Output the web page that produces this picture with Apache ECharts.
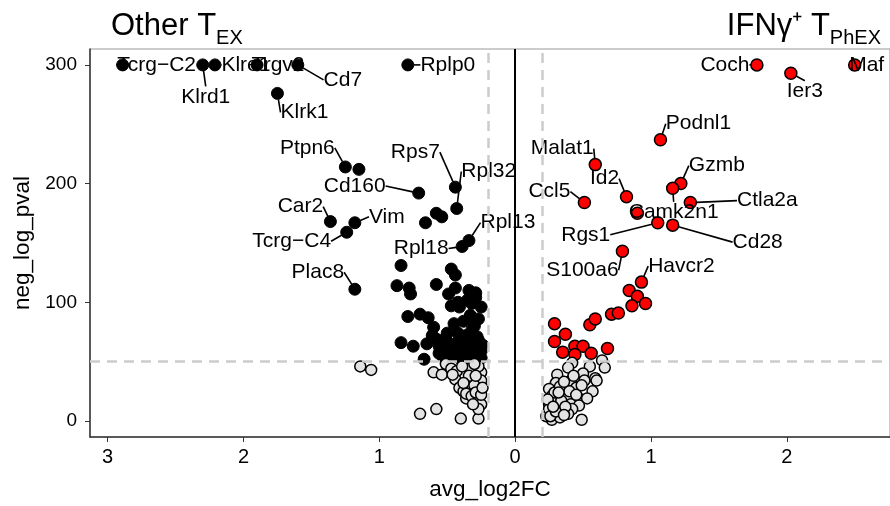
<!DOCTYPE html>
<html>
<head>
<meta charset="utf-8">
<script src="https://cdn.jsdelivr.net/npm/echarts@6/dist/echarts.min.js"></script>
<style>
    html, body { margin: 0; padding: 0; background: #fff; }
    #chart { width: 890px; height: 506px; }
</style>
</head>
<body>
<div id="chart"></div>
<script>
// genes higher in Other T_EX (negative log2FC), labelled
var downLabelled = [
    [-2.89, 300, 'Tcrg\u2212C2'], [-2.30, 300, 'Klrd1'], [-2.21, 300, 'Klre1'],
    [-1.90, 300, 'Trgv2'], [-1.60, 300, 'Cd7'], [-0.79, 300, 'Rplp0'],
    [-1.75, 276, 'Klrk1'], [-1.25, 214, 'Ptpn6'], [-0.71, 192, 'Cd160'],
    [-0.44, 197, 'Rps7'], [-0.43, 179, 'Rpl32'], [-1.36, 168, 'Car2'],
    [-1.18, 167, 'Vim'], [-1.24, 159, 'Tcrg\u2212C4'], [-0.34, 152, 'Rpl13'],
    [-0.39, 147, 'Rpl18'], [-1.18, 111, 'Plac8']
];
// other significant down genes
var downOther = [
    [-1.15, 212], [-0.66, 167], [-0.58, 175], [-0.54, 172],
    [-0.84, 131], [-0.87, 114], [-0.78, 112], [-0.77, 107], [-0.58, 115], [-0.47, 128],
    [-0.44, 123], [-0.44, 112], [-0.34, 110], [-0.29, 108], [-0.49, 107],
    [-0.79, 88], [-0.70, 90], [-0.64, 87], [-0.60, 79], [-0.50, 74], [-0.32, 76],
    [-0.61, 72], [-0.84, 66], [-0.75, 63], [-0.65, 65], [-0.56, 63], [-0.49, 66],
    [-0.41, 69], [-0.34, 68], [-0.27, 68], [-0.51, 59], [-0.56, 57], [-0.44, 57],
    [-0.36, 59], [-0.25, 59], [-0.67, 52], [-0.51, 52], [-0.41, 53], [-0.32, 52],
    [-0.25, 53], [-0.47, 97], [-0.41, 96], [-0.32, 99], [-0.25, 96], [-0.33, 89],
    [-0.45, 82], [-0.38, 84], [-0.30, 80], [-0.27, 86], [-0.42, 74], [-0.36, 72],
    [-0.29, 62], [-0.39, 62], [-0.47, 62], [-0.53, 68], [-0.58, 69], [-0.30, 56],
    [-0.37, 55], [-0.46, 55], [-0.53, 54], [-0.28, 71], [-0.24, 64], [-0.35, 102],
    [-0.29, 104], [-0.42, 100]
];
// genes higher in IFNg+ T_PhEX, labelled
var upLabelled = [
    [1.78, 300, 'Coch'], [2.03, 293, 'Ier3'], [2.50, 300, 'Maf'],
    [1.07, 237, 'Podnl1'], [0.59, 216, 'Malat1'], [0.82, 189, 'Id2'],
    [0.51, 184, 'Ccl5'], [1.22, 200, 'Gzmb'], [1.16, 196, 'Camk2n1'],
    [1.29, 184, 'Ctla2a'], [1.05, 167, 'Rgs1'], [1.16, 165, 'Cd28'],
    [0.79, 143, 'S100a6'], [0.93, 117, 'Havcr2']
];
var upOther = [
    [0.90, 175], [0.84, 110], [0.90, 105], [0.86, 97], [0.96, 99], [0.71, 90],
    [0.76, 91], [0.55, 81], [0.59, 86], [0.29, 82], [0.37, 73], [0.29, 67],
    [0.44, 63], [0.50, 63], [0.35, 58], [0.44, 56], [0.56, 57], [0.68, 61]
];
// not significant
var nsPoints = [
    [-1.14, 46], [-1.06, 43], [-0.70, 6], [-0.58, 10], [-0.40, 2], [-0.27, 2],
    [-0.60, 41], [-0.54, 39], [-0.51, 48], [-0.47, 44], [-0.43, 42], [-0.44, 35],
    [-0.41, 28], [-0.38, 25], [-0.36, 19], [-0.36, 23], [-0.32, 21], [-0.27, 17],
    [-0.25, 14], [-0.25, 41], [-0.27, 46], [-0.32, 34], [-0.28, 28], [-0.25, 34],
    [-0.34, 44], [-0.39, 46], [-0.30, 48], [-0.30, 30], [-0.34, 38], [-0.29, 24],
    [-0.25, 22], [-0.27, 10], [-0.31, 14], [-0.24, 28], [-0.38, 32], [-0.46, 39],
    [-0.29, 38],
    [0.42, 49], [0.39, 45], [0.55, 46], [0.64, 51], [0.66, 45], [0.31, 39],
    [0.50, 40], [0.59, 36], [0.30, 32], [0.41, 34], [0.51, 34], [0.60, 34],
    [0.25, 27], [0.35, 27], [0.45, 28], [0.57, 25], [0.27, 21], [0.38, 21],
    [0.47, 19], [0.53, 19], [0.25, 14], [0.33, 13], [0.41, 14], [0.47, 13],
    [0.27, 7], [0.35, 8], [0.42, 10], [0.27, 1], [0.33, 3], [0.49, 1],
    [0.39, 6], [0.23, 4], [0.25, 10], [0.28, 16], [0.31, 20], [0.26, 4],
    [0.30, 8], [0.34, 17], [0.37, 12], [0.29, 24], [0.33, 29], [0.40, 25],
    [0.24, 18], [0.36, 5], [0.45, 22], [0.49, 30], [0.43, 38], [0.36, 33],
    [0.28, 12], [0.32, 24]
];
var xTicks = [-3, -2, -1, 0, 1, 2];
var yTicks = [0, 100, 200, 300];
var fcCut = 0.2, pCut = 50;

// where each label sits relative to its point (px)
var nudge = {
    'Tcrg\u2212C2': [34, 0], 'Klrd1': [3, 32], 'Klre1': [31, 0], 'Trgv2': [21, 0],
    'Cd7': [45, 15], 'Rplp0': [40, 0], 'Klrk1': [27, 19], 'Ptpn6': [-38, -19],
    'Cd160': [-64, -7], 'Rps7': [-40, -35], 'Rpl32': [32, -37], 'Car2': [-30, -15],
    'Vim': [32, -6], 'Tcrg\u2212C4': [-55, 9], 'Rpl13': [39, -18], 'Rpl18': [-41, 2],
    'Plac8': [-37, -17],
    'Coch': [-32, 0], 'Ier3': [14, 18], 'Maf': [12, 0], 'Podnl1': [38, -16],
    'Malat1': [-33, -16], 'Id2': [-22, -18], 'Ccl5': [-35, -11], 'Gzmb': [36, -18],
    'Camk2n1': [1, 24], 'Ctla2a': [77, -2], 'Rgs1': [-72, 12], 'Cd28': [85, 17],
    'S100a6': [-40, 19], 'Havcr2': [40, -16]
};

var FONT = 'Liberation Sans, Arial, Helvetica, sans-serif';

function labelled(data) {
    return {
        show: true,
        position: 'inside',
        formatter: function (p) { return p.data[2]; },
        color: '#000',
        opacity: 1,
        fontSize: 21,
        fontFamily: FONT
    };
}
function layoutFor(data) {
    return function (p) {
        var n = nudge[data[p.dataIndex][2]] || [0, 0];
        return { dx: n[0], dy: n[1] };
    };
}
var lineStyle = { lineStyle: { color: '#000', width: 1.6, opacity: 1 } };

// title with a lowered subscript: main part padded up from the shared bottom
var titleRich = {
    a: { fontSize: 31, fontWeight: 'normal', fontFamily: FONT, color: '#000', verticalAlign: 'bottom', lineHeight: 32, padding: [0, 0, 6, 0] },
    b: { fontSize: 20, fontWeight: 'normal', fontFamily: FONT, color: '#000', verticalAlign: 'bottom', lineHeight: 22 }
};

var myChart = echarts.init(document.getElementById('chart'));
var option = {
    animation: false,
    title: [
        {
            left: 106, top: 11,
            text: '{a|Other T}{b|EX}',
            textStyle: { rich: titleRich }
        },
        {
            right: 4, top: 11,
            text: '{a|IFN\u03b3\u207a T}{b|PhEX}',
            textStyle: { rich: titleRich }
        }
    ],
    grid: {
        left: 90, right: 0, top: 49, bottom: 69,
        show: true, borderColor: '#999', borderWidth: 1
    },
    xAxis: {
        type: 'value',
        min: -3.13, max: 2.76,
        name: 'avg_log2FC',
        nameLocation: 'middle',
        nameGap: 41,
        nameTextStyle: { fontSize: 22.5, fontFamily: FONT, color: '#000' },
        axisLine: { onZero: false, lineStyle: { color: '#333', width: 1.5 } },
        axisTick: { show: true, length: 5, customValues: xTicks, lineStyle: { color: '#333' } },
        axisLabel: {
            customValues: xTicks, fontSize: 20, fontFamily: FONT, color: '#000', margin: 10,
            formatter: function (v) { return String(Math.abs(v)); }
        },
        splitLine: { show: false }
    },
    yAxis: {
        type: 'value',
        min: -13.5, max: 313.4,
        name: 'neg_log_pval',
        nameLocation: 'middle',
        nameGap: 55,
        nameRotate: 90,
        nameTextStyle: { fontSize: 22.5, fontFamily: FONT, color: '#000' },
        axisLine: { show: true, onZero: false, lineStyle: { color: '#333', width: 1.5 } },
        axisTick: { show: true, length: 5, customValues: yTicks, lineStyle: { color: '#333' } },
        axisLabel: { customValues: yTicks, fontSize: 19, fontFamily: FONT, color: '#000', margin: 13 },
        splitLine: { show: false }
    },
    series: [
        {
            type: 'scatter',
            name: 'guides',
            data: [],
            silent: true,
            markLine: {
                silent: true,
                symbol: 'none',
                label: { show: false },
                lineStyle: { color: '#cccccc', type: [10, 7], width: 2.5, opacity: 1 },
                data: [
                    { xAxis: -fcCut },
                    { xAxis: fcCut },
                    { yAxis: pCut },
                    { xAxis: 0, lineStyle: { color: '#000', type: 'solid', width: 2 } }
                ]
            }
        },
        {
            type: 'scatter', name: 'down',
            data: downOther,
            symbolSize: 12,
            itemStyle: { color: '#000', borderColor: '#000', borderWidth: 1, opacity: 1 }
        },
        {
            type: 'scatter', name: 'up',
            data: upOther,
            symbolSize: 12,
            itemStyle: { color: '#ff0000', borderColor: '#000', borderWidth: 1.5, opacity: 1 }
        },
        {
            type: 'scatter', name: 'ns',
            data: nsPoints,
            symbolSize: 11,
            itemStyle: { color: '#e3e3e3', borderColor: '#000', borderWidth: 1.5, opacity: 1 }
        },
        {
            type: 'scatter', name: 'downLab',
            data: downLabelled,
            symbolSize: 12,
            itemStyle: { color: '#000', borderColor: '#000', borderWidth: 1, opacity: 1 },
            label: labelled(downLabelled),
            labelLine: Object.assign({ show: true }, lineStyle),
            labelLayout: layoutFor(downLabelled)
        },
        {
            type: 'scatter', name: 'upLab',
            data: upLabelled,
            symbolSize: 12,
            itemStyle: { color: '#ff0000', borderColor: '#000', borderWidth: 1.5, opacity: 1 },
            label: labelled(upLabelled),
            labelLine: Object.assign({ show: true }, lineStyle),
            labelLayout: layoutFor(upLabelled)
        }
    ]
};
myChart.setOption(option);
</script>
</body>
</html>
